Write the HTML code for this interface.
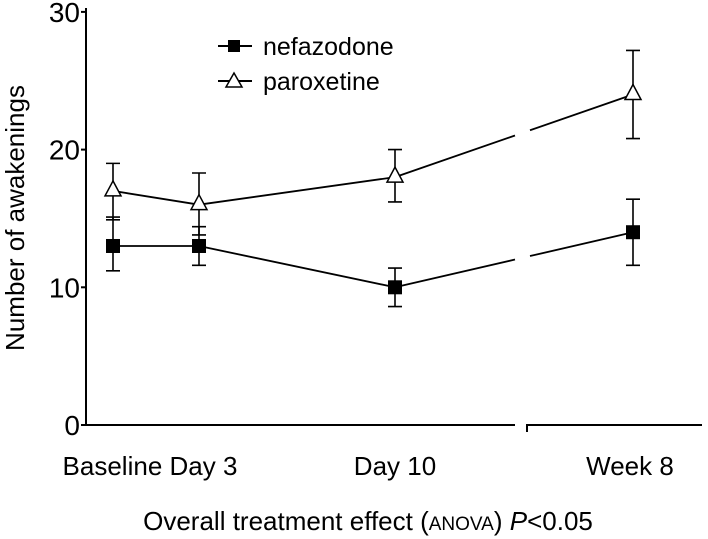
<!DOCTYPE html>
<html><head><meta charset="utf-8"><style>
body{margin:0;background:#fff;}
svg{display:block;font-family:"Liberation Sans",sans-serif;}
</style></head><body>
<svg id="chart" width="708" height="539" viewBox="0 0 708 539">
<g id="axes"></g><g id="series"></g>
<g>
 <g>
  <line x1="218" y1="46" x2="252" y2="46" stroke="#000" stroke-width="2"/>
  <rect x="228" y="40" width="12" height="12" fill="#000"/>
  <text x="263" y="55" font-size="25">nefazodone</text>
 </g>
 <g>
  <line x1="218" y1="81" x2="252" y2="81" stroke="#000" stroke-width="2"/>
  <polygon points="234,73 242,87 226,87" fill="#fff" stroke="#000" stroke-width="1.5"/>
  <text x="263" y="90" font-size="25">paroxetine</text>
 </g>
</g>
<text x="0" y="0" transform="translate(24,218) rotate(-90)" text-anchor="middle" font-size="26">Number of awakenings</text>
<text x="368" y="530" text-anchor="middle" font-size="26">Overall treatment effect (<tspan font-size="19">ANOVA</tspan>) <tspan font-style="italic">P</tspan>&lt;0.05</text>
</svg>
<script>
const categories=["Baseline","Day 3","Day 10","Week 8"];
const nefMean=[13,13,10,14];
const nefLow=[11.2,11.6,8.6,11.6];
const nefHigh=[15.1,14.4,11.4,16.4];
const parMean=[17,16,18,24];
const parLow=[14.9,13.8,16.2,20.8];
const parHigh=[19,18.3,20,27.2];
const yTicks=[0,10,20,30];

const NS="http://www.w3.org/2000/svg";
function y(v){return 425-v*13.77;}
function x(i){return [113,199,395,633][i];}
function mk(tag,attrs,parent){const e=document.createElementNS(NS,tag);for(const k in attrs)e.setAttribute(k,attrs[k]);parent.appendChild(e);return e;}
const ax=document.getElementById('axes'), se=document.getElementById('series');
let l=mk('line',{x1:86,y1:8,x2:86,y2:425,stroke:'#000','stroke-width':2},ax);


l=mk('line',{x1:85,y1:425,x2:515,y2:425,stroke:'#000','stroke-width':2},ax);


l=mk('path',{d:'M527,432 L527,425 L702,425',fill:'none',stroke:'#000','stroke-width':2},ax);


yTicks.forEach(v=>{
 const t=mk('line',{x1:81,y1:y(v),x2:86,y2:y(v),stroke:'#000','stroke-width':2},ax);
 
 
 const tx=mk('text',{x:80,y:y(v)+10,'text-anchor':'end','font-size':28},ax);
 tx.textContent=v;
 
 
});
[[150,"Baseline Day 3"],[395,"Day 10"],[630,"Week 8"]].forEach(([px,s])=>{
 const tx=mk('text',{x:px,y:475,'text-anchor':'middle','font-size':26},ax);
 tx.textContent=s;
 
 
});
function series(mean,lo,hi,name,marker){
 const g=mk('g',{},se);
 
 
 let d='';
 for(let i=0;i<mean.length-1;i++){
  const x1=x(i),y1=y(mean[i]),x2=x(i+1),y2=y(mean[i+1]);
  if(x2>520){
   const f1=(515-x1)/(x2-x1),f2=(530-x1)/(x2-x1);
   d+=`M${x1},${y1}L515,${y1+(y2-y1)*f1}M530,${y1+(y2-y1)*f2}L${x2},${y2}`;
  } else d+=`M${x1},${y1}L${x2},${y2}`;
 }
 const p=mk('path',{d:d,fill:'none',stroke:'#000','stroke-width':1.8},g);
 
 
 mean.forEach((m,i)=>{
  const cx=x(i);
  const e=mk('path',{d:`M${cx},${y(lo[i])}L${cx},${y(hi[i])}M${cx-7},${y(lo[i])}L${cx+7},${y(lo[i])}M${cx-7},${y(hi[i])}L${cx+7},${y(hi[i])}`,stroke:'#000','stroke-width':1.6,fill:'none'},g);
  
  
  let mkr;
  if(marker==='square') mkr=mk('rect',{x:cx-7,y:y(m)-7,width:14,height:14,fill:'#000'},g);
  else mkr=mk('polygon',{points:`${cx},${y(m)-10} ${cx+8},${y(m)+5} ${cx-8},${y(m)+5}`,fill:'#fff',stroke:'#000','stroke-width':1.5},g);
  
  
 });
}
series(nefMean,nefLow,nefHigh,'nefazodone','square');
series(parMean,parLow,parHigh,'paroxetine','triangle');
</script>
</body></html>
